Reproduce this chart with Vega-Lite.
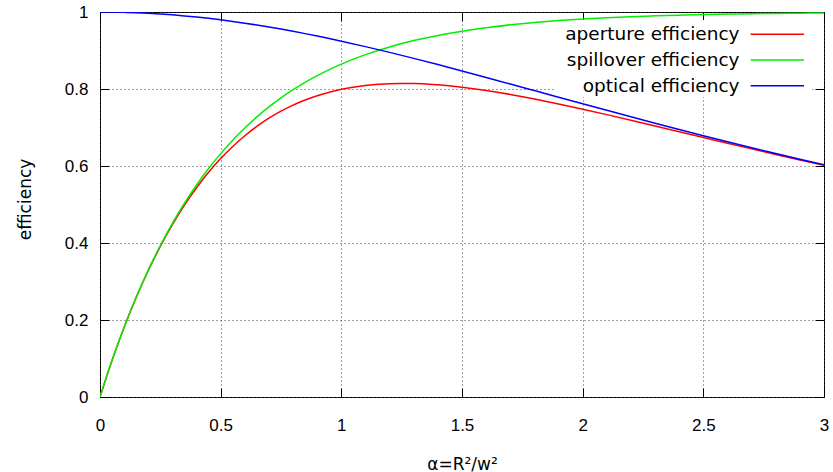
{
  "$schema": "https://vega.github.io/schema/vega-lite/v6.json",
  "width": 724,
  "height": 385,
  "autosize": {"type": "none"},
  "padding": {"left": 100, "top": 12, "right": 9, "bottom": 75},
  "background": "white",
  "config": {
    "view": {"stroke": "black", "strokeWidth": 1},
    "axis": {"domain": false}
  },
  "datasets": {
    "curves": [
      {"a": 0, "aperture": 0, "spillover": 0, "optical": 1},
      {"a": 0.05, "aperture": 0.095143, "spillover": 0.095163, "optical": 0.999792},
      {"a": 0.1, "aperture": 0.181118, "spillover": 0.181269, "optical": 0.999168},
      {"a": 0.15, "aperture": 0.258697, "spillover": 0.259182, "optical": 0.998129},
      {"a": 0.2, "aperture": 0.328585, "spillover": 0.32968, "optical": 0.99668},
      {"a": 0.25, "aperture": 0.391432, "spillover": 0.393469, "optical": 0.994824},
      {"a": 0.3, "aperture": 0.447834, "spillover": 0.451188, "optical": 0.992567},
      {"a": 0.35, "aperture": 0.498338, "spillover": 0.503415, "optical": 0.989915},
      {"a": 0.4, "aperture": 0.543445, "spillover": 0.550671, "optical": 0.986877},
      {"a": 0.45, "aperture": 0.583616, "spillover": 0.59343, "optical": 0.983462},
      {"a": 0.5, "aperture": 0.619273, "spillover": 0.632121, "optical": 0.979674},
      {"a": 0.55, "aperture": 0.650805, "spillover": 0.667129, "optical": 0.975531},
      {"a": 0.6, "aperture": 0.678571, "spillover": 0.698806, "optical": 0.971043},
      {"a": 0.65, "aperture": 0.702893, "spillover": 0.727468, "optical": 0.966218},
      {"a": 0.7, "aperture": 0.724076, "spillover": 0.753403, "optical": 0.961074},
      {"a": 0.75, "aperture": 0.742392, "spillover": 0.77687, "optical": 0.955619},
      {"a": 0.8, "aperture": 0.758097, "spillover": 0.798103, "optical": 0.949873},
      {"a": 0.85, "aperture": 0.771423, "spillover": 0.817316, "optical": 0.943849},
      {"a": 0.9, "aperture": 0.782588, "spillover": 0.834701, "optical": 0.937567},
      {"a": 0.95, "aperture": 0.791766, "spillover": 0.850431, "optical": 0.931017},
      {"a": 1.0, "aperture": 0.799152, "spillover": 0.864665, "optical": 0.924234},
      {"a": 1.1, "aperture": 0.809201, "spillover": 0.889197, "optical": 0.910036},
      {"a": 1.2, "aperture": 0.813882, "spillover": 0.909282, "optical": 0.895083},
      {"a": 1.3, "aperture": 0.814169, "spillover": 0.925726, "optical": 0.879492},
      {"a": 1.4, "aperture": 0.810881, "spillover": 0.93919, "optical": 0.863383},
      {"a": 1.5, "aperture": 0.804701, "spillover": 0.950213, "optical": 0.846865},
      {"a": 1.6, "aperture": 0.796212, "spillover": 0.959238, "optical": 0.830046},
      {"a": 1.7, "aperture": 0.785889, "spillover": 0.966627, "optical": 0.813022},
      {"a": 1.8, "aperture": 0.77414, "spillover": 0.972676, "optical": 0.795887},
      {"a": 1.9, "aperture": 0.761298, "spillover": 0.977629, "optical": 0.778719},
      {"a": 2.0, "aperture": 0.747645, "spillover": 0.981684, "optical": 0.761594},
      {"a": 2.1, "aperture": 0.733411, "spillover": 0.985004, "optical": 0.744577},
      {"a": 2.2, "aperture": 0.718792, "spillover": 0.987723, "optical": 0.727726},
      {"a": 2.3, "aperture": 0.703942, "spillover": 0.989948, "optical": 0.71109},
      {"a": 2.4, "aperture": 0.688996, "spillover": 0.99177, "optical": 0.694713},
      {"a": 2.5, "aperture": 0.674054, "spillover": 0.993262, "optical": 0.678627},
      {"a": 2.6, "aperture": 0.659207, "spillover": 0.994483, "optical": 0.662864},
      {"a": 2.7, "aperture": 0.644523, "spillover": 0.995483, "optical": 0.647447},
      {"a": 2.8, "aperture": 0.630055, "spillover": 0.996302, "optical": 0.632394},
      {"a": 2.9, "aperture": 0.61585, "spillover": 0.996972, "optical": 0.61772},
      {"a": 3.0, "aperture": 0.601936, "spillover": 0.997521, "optical": 0.603432}
    ]
  },
  "layer": [
    {
      "data": {"values": [{}]},
      "mark": {"type": "rect", "fill": "white"},
      "encoding": {
        "x": {
          "datum": 1.885, "type": "quantitative",
          "scale": {"domain": [0, 3], "nice": false, "zero": false},
          "axis": {"orient": "top", "labels": false, "grid": false, "title": null, "values": [0, 0.5, 1, 1.5, 2, 2.5, 3], "tickSize": -9, "tickColor": "black"}
        },
        "x2": {"datum": 2.95},
        "y": {
          "datum": 0.979, "type": "quantitative",
          "scale": {"domain": [0, 1], "nice": false},
          "axis": {"orient": "right", "labels": false, "grid": false, "title": null, "values": [0, 0.2, 0.4, 0.6, 0.8, 1], "tickSize": -9, "tickColor": "black"}
        },
        "y2": {"datum": 0.779}
      }
    },
    {
      "data": {"name": "curves"},
      "transform": [{"fold": ["aperture", "spillover", "optical"], "as": ["series", "eff"]}],
      "mark": {"type": "line", "strokeWidth": 1.5, "interpolate": "monotone", "clip": true},
      "encoding": {
        "x": {
          "field": "a", "type": "quantitative",
          "scale": {"domain": [0, 3], "nice": false, "zero": false},
          "axis": {
            "orient": "bottom", "title": "α=R²/w²", "values": [0, 0.5, 1, 1.5, 2, 2.5, 3], "format": "~g",
            "grid": true, "gridDash": [1, 3], "gridColor": "#444", "gridWidth": 1,
            "tickSize": -9, "tickColor": "black", "labelPadding": 29, "labelFlush": false,
            "labelFont": "Liberation Sans", "labelFontSize": 17, "labelColor": "black",
            "titleFont": "DejaVu Sans", "titleFontSize": 17, "titleFontWeight": "normal", "titleColor": "black",
            "titleX": 362, "titleY": 72, "titleBaseline": "alphabetic"
          }
        },
        "y": {
          "field": "eff", "type": "quantitative",
          "scale": {"domain": [0, 1], "nice": false},
          "axis": {
            "orient": "left", "title": "efficiency", "values": [0, 0.2, 0.4, 0.6, 0.8, 1], "format": "~g",
            "grid": true, "gridDash": [1, 3], "gridColor": "#444", "gridWidth": 1,
            "tickSize": -9, "tickColor": "black", "labelPadding": 21, "labelFlush": false,
            "labelFont": "Liberation Sans", "labelFontSize": 17, "labelColor": "black",
            "titleFont": "DejaVu Sans", "titleFontSize": 17, "titleFontWeight": "normal", "titleColor": "black",
            "titleX": -75, "titleY": 187, "titleBaseline": "middle", "titleAngle": -90
          }
        },
        "color": {
          "field": "series", "type": "nominal",
          "scale": {"domain": ["aperture", "spillover", "optical"], "range": ["#ff0000", "#00ee00", "#0000ff"]},
          "legend": null
        }
      }
    },
    {
      "data": {"values": [{"label": "aperture efficiency"}]},
      "layer": [
        {
          "mark": {"type": "rule", "color": "#ff0000", "strokeWidth": 1.5},
          "encoding": {
            "x": {"datum": 2.696, "type": "quantitative", "axis": null},
            "x2": {"datum": 2.917},
            "y": {"datum": 0.942, "type": "quantitative", "axis": null}
          }
        },
        {
          "mark": {"type": "text", "align": "right", "baseline": "middle", "font": "DejaVu Sans", "fontSize": 18.5, "color": "black"},
          "encoding": {
            "x": {"datum": 2.65, "type": "quantitative", "axis": null},
            "y": {"datum": 0.942, "type": "quantitative", "axis": null},
            "text": {"field": "label"}
          }
        }
      ]
    },
    {
      "data": {"values": [{"label": "spillover efficiency"}]},
      "layer": [
        {
          "mark": {"type": "rule", "color": "#00ee00", "strokeWidth": 1.5},
          "encoding": {
            "x": {"datum": 2.696, "type": "quantitative", "axis": null},
            "x2": {"datum": 2.917},
            "y": {"datum": 0.8753, "type": "quantitative", "axis": null}
          }
        },
        {
          "mark": {"type": "text", "align": "right", "baseline": "middle", "font": "DejaVu Sans", "fontSize": 18.5, "color": "black"},
          "encoding": {
            "x": {"datum": 2.65, "type": "quantitative", "axis": null},
            "y": {"datum": 0.8753, "type": "quantitative", "axis": null},
            "text": {"field": "label"}
          }
        }
      ]
    },
    {
      "data": {"values": [{"label": "optical efficiency"}]},
      "layer": [
        {
          "mark": {"type": "rule", "color": "#0000ff", "strokeWidth": 1.5},
          "encoding": {
            "x": {"datum": 2.696, "type": "quantitative", "axis": null},
            "x2": {"datum": 2.917},
            "y": {"datum": 0.8086, "type": "quantitative", "axis": null}
          }
        },
        {
          "mark": {"type": "text", "align": "right", "baseline": "middle", "font": "DejaVu Sans", "fontSize": 18.5, "color": "black"},
          "encoding": {
            "x": {"datum": 2.65, "type": "quantitative", "axis": null},
            "y": {"datum": 0.8086, "type": "quantitative", "axis": null},
            "text": {"field": "label"}
          }
        }
      ]
    }
  ],
  "resolve": {"axis": {"x": "independent", "y": "independent"}}
}
